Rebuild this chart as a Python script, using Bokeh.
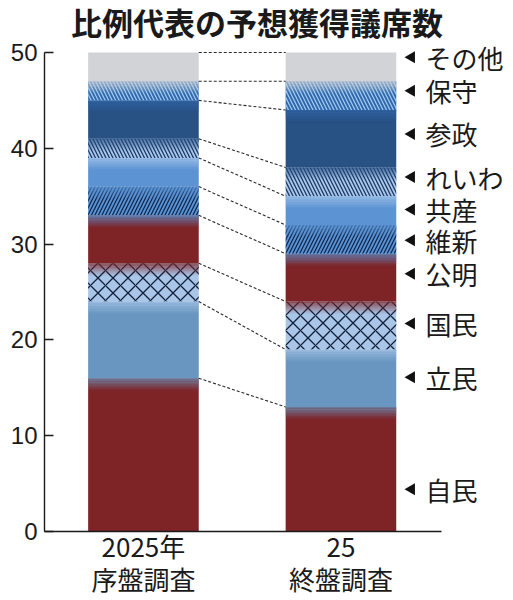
import numpy as np
from bokeh.plotting import figure
from bokeh.models import Range1d, FixedTicker, Label, LinearAxis
from bokeh.embed import file_html
from bokeh.resources import INLINE

# ---- data ----
title_text = "比例代表の予想獲得議席数"
survey_year = ["2025年", "25"]
survey_phase = ["序盤調査", "終盤調査"]
parties = ["自民", "立民", "国民", "公明", "維新", "共産", "れいわ", "参政", "保守", "その他"]
early_seats = [16, 8, 4, 5, 3, 3, 2, 4, 2, 3]
late_seats = [13, 6, 5, 5, 3, 3, 3, 6, 3, 3]
label_y = [4.4, 16.1, 21.7, 26.9, 30.4, 33.6, 37.0, 41.5, 46.0, 49.5]
y_ticks = [0, 10, 20, 30, 40, 50]
Y_MAX = 50

# ---- styles ----
fills = ["#7e2427", "#6896c0", "#a9c6e8", "#7e2427", "#5b93d3",
         "#5b93d3", "#a8c8ec", "#285184", "#2f66a8", "#d2d3d7"]
hatches = [None, None, "x", None, "/", None, "\\", None, "\\", None]
hatch_colors = [None, None, "#10203a", None, "#0f2a52", None, "#1e3a66", None, "#9cc8f0", None]
hatch_scales = [12, 12, 15, 12, 7, 12, 7, 12, 7, 12]

JP = "Noto Sans CJK JP"
BAR_W = 0.56
X_START, X_AXIS_END = -0.501, 1.509
PX_PER_X = 197.5
PX_PER_Y = 9.58
LEFT, BOTTOM, W, H = 44, 69, 513, 600
FRAME_W = W - LEFT
FRAME_H = H - BOTTOM
Y_TOP = FRAME_H / PX_PER_Y

p = figure(width=W, height=H, output_backend="svg", toolbar_location=None,
           x_range=Range1d(X_START, X_START + FRAME_W / PX_PER_X), y_range=Range1d(0, Y_TOP),
           min_border_left=LEFT, min_border_right=0, min_border_top=0, min_border_bottom=BOTTOM)
p.outline_line_color = None
p.grid.visible = False
p.background_fill_color = "white"

x_pos = np.arange(len(survey_year))
early = np.array(early_seats, dtype=float)
late = np.array(late_seats, dtype=float)
tops = [np.cumsum(early), np.cumsum(late)]
bots = [tops[0] - early, tops[1] - late]

for i, party in enumerate(parties):
    kw = dict(x=x_pos, width=BAR_W, bottom=[bots[0][i], bots[1][i]], top=[tops[0][i], tops[1][i]],
              fill_color=fills[i], line_color=None)
    if hatches[i]:
        kw.update(hatch_pattern=hatches[i], hatch_color=hatch_colors[i],
                  hatch_scale=hatch_scales[i], hatch_weight=1.3)
    p.vbar(**kw)

# soft blend: each band's colour bleeds a little into the band below it
FADE_DEPTH, FADE_STEPS = 1.3, 8
fx, fb, ft, fc, fa = [], [], [], [], []
for j in range(len(x_pos)):
    for k in range(len(parties) - 1):
        b = tops[j][k]
        for s in range(FADE_STEPS):
            fx.append(x_pos[j])
            ft.append(b - FADE_DEPTH * s / FADE_STEPS)
            fb.append(b - FADE_DEPTH * (s + 1) / FADE_STEPS)
            fc.append(fills[k + 1])
            fa.append(0.8 * (1 - (s + 0.5) / FADE_STEPS))
p.vbar(x=fx, width=BAR_W, bottom=fb, top=ft, fill_color=fc, fill_alpha=fa, line_color=None)

# dashed connectors between the bars
p.segment(x0=[x_pos[0] + BAR_W / 2] * len(parties), y0=tops[0],
          x1=[x_pos[1] - BAR_W / 2] * len(parties), y1=tops[1],
          line_color="#2a2a2a", line_width=1.1, line_dash="3 2")

# right-side labels with arrowheads
p.scatter(x=[x_pos[1] + BAR_W / 2 + 0.077] * len(parties), y=label_y, marker="triangle",
          size=12, angle=np.pi / 2, fill_color="#111111", line_color=None)
for name, yy in zip(parties, label_y):
    p.add_layout(Label(x=x_pos[1] + BAR_W / 2 + 0.148, y=yy, text=name, text_font=JP,
                       text_font_size="26px", text_color="#1a1a1a",
                       text_baseline="middle", text_align="left"))

# title, drawn inside the (taller) frame above the axis range
p.add_layout(Label(x=X_START + (256.5 - LEFT) / PX_PER_X, y=Y_MAX + 31 / PX_PER_Y,
                   text=title_text, text_font=JP, text_font_size="31px",
                   text_font_style="bold", text_color="#1a1a1a",
                   text_align="center", text_baseline="middle"))

# y axis
yax = p.yaxis[0]
yax.ticker = FixedTicker(ticks=y_ticks)
yax.bounds = (0, Y_MAX)
yax.minor_tick_line_color = None
yax.major_tick_in = 9
yax.major_tick_out = 0
yax.axis_line_color = "#1a1a1a"
yax.axis_line_width = 1.4
yax.major_tick_line_color = "#1a1a1a"
yax.major_tick_line_width = 1.4
yax.major_label_text_font = "Liberation Sans"
yax.major_label_text_font_size = "24px"
yax.major_label_text_color = "#1a1a1a"
yax.major_label_standoff = 7

# x axis: first line of category labels
xax = p.xaxis[0]
xax.ticker = FixedTicker(ticks=list(x_pos))
xax.bounds = (X_START, X_AXIS_END)
xax.major_label_overrides = {int(i): s for i, s in zip(x_pos, survey_year)}
xax.minor_tick_line_color = None
xax.major_tick_in = 0
xax.major_tick_out = 0
xax.axis_line_color = "#1a1a1a"
xax.axis_line_width = 1.4
xax.major_label_text_font = JP
xax.major_label_text_font_size = "26px"
xax.major_label_text_color = "#1a1a1a"
xax.major_label_standoff = -5

# second line of category labels
xax2 = LinearAxis(ticker=FixedTicker(ticks=list(x_pos)),
                  major_label_overrides={int(i): s for i, s in zip(x_pos, survey_phase)},
                  axis_line_color=None, major_tick_line_color=None, minor_tick_line_color=None,
                  major_label_text_font=JP, major_label_text_font_size="26px",
                  major_label_text_color="#1a1a1a", major_label_standoff=-13)
p.add_layout(xax2, "below")

open("out.html", "w").write(file_html(p, INLINE))
